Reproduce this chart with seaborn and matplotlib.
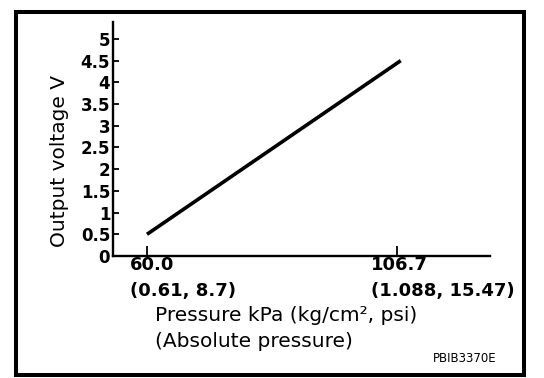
"""
MAP sensor characteristic: output voltage vs. absolute pressure.
Recreated from a service-manual style line chart.
"""

import matplotlib
matplotlib.use("Agg")
import matplotlib.pyplot as plt
from matplotlib.patches import Rectangle
from matplotlib.transforms import ScaledTranslation
import seaborn as sns

# data
pressure_kpa = [60.0, 107.4]
output_v = [0.5, 4.5]

x_ticks = [60.0, 106.7]
x_tick_labels = ["60.0\n(0.61, 8.7)", "106.7\n(1.088, 15.47)"]
y_ticks = [0, 0.5, 1, 1.5, 2, 2.5, 3, 3.5, 4, 4.5, 5]
y_tick_labels = ["0", "0.5", "1", "1.5", "2", "2.5", "3", "3.5", "4", "4.5", "5"]

x_label = "Pressure kPa (kg/cm\u00b2, psi)\n(Absolute pressure)"
y_label = "Output voltage V"
code_text = "PBIB3370E"

sns.set_style("white")
plt.rcParams["font.family"] = ["DejaVu Sans"]
plt.rcParams["text.color"] = "black"
plt.rcParams["axes.labelcolor"] = "black"

fig = plt.figure(figsize=(5.44, 3.78), dpi=100)
ax = fig.add_axes([113 / 544, 1 - 256 / 378, 377 / 544, 234 / 378])

sns.lineplot(x=pressure_kpa, y=output_v, ax=ax, color="black", linewidth=2.6,
             solid_capstyle="butt")

ax.set_xlim(53.65, 124.07)
ax.set_ylim(0, 5.39)

for side in ("top", "right"):
    ax.spines[side].set_visible(False)
for side in ("left", "bottom"):
    ax.spines[side].set_color("black")
    ax.spines[side].set_linewidth(1.7)

ax.set_yticks(y_ticks)
ax.set_yticklabels(y_tick_labels, fontsize=12, fontweight="bold")
ax.tick_params(axis="y", left=True, direction="in", length=4, width=1.3,
               pad=2, colors="black")

ax.set_xticks(x_ticks)
ax.set_xticklabels(x_tick_labels, fontsize=13, fontweight="bold",
                   ha="left", linespacing=1.55)
ax.tick_params(axis="x", bottom=True, direction="in", length=7, width=1.3,
               pad=0, colors="black")
for lbl, dx in zip(ax.get_xticklabels(), [-17, -26]):
    lbl.set_transform(lbl.get_transform() + ScaledTranslation(dx / 100, 0, fig.dpi_scale_trans))

ax.set_ylabel(y_label, fontsize=14.5, va="center", color="black")
ax.yaxis.set_label_coords(-0.1406, 0.406)

ax.set_xlabel(x_label, fontsize=14.5, ha="left", va="top", linespacing=1.45,
              color="black")
ax.xaxis.set_label_coords(0.1114, -0.2137)

fig.text(433 / 544, 1 - 362 / 378, code_text, fontsize=8.5, va="baseline",
         color="black")

# outer frame
fig.add_artist(Rectangle((16 / 544, 1 - 375 / 378), 508 / 544, 363 / 378,
                         transform=fig.transFigure, fill=False,
                         edgecolor="black", linewidth=2.9))

fig.savefig("out.png", dpi=100)
